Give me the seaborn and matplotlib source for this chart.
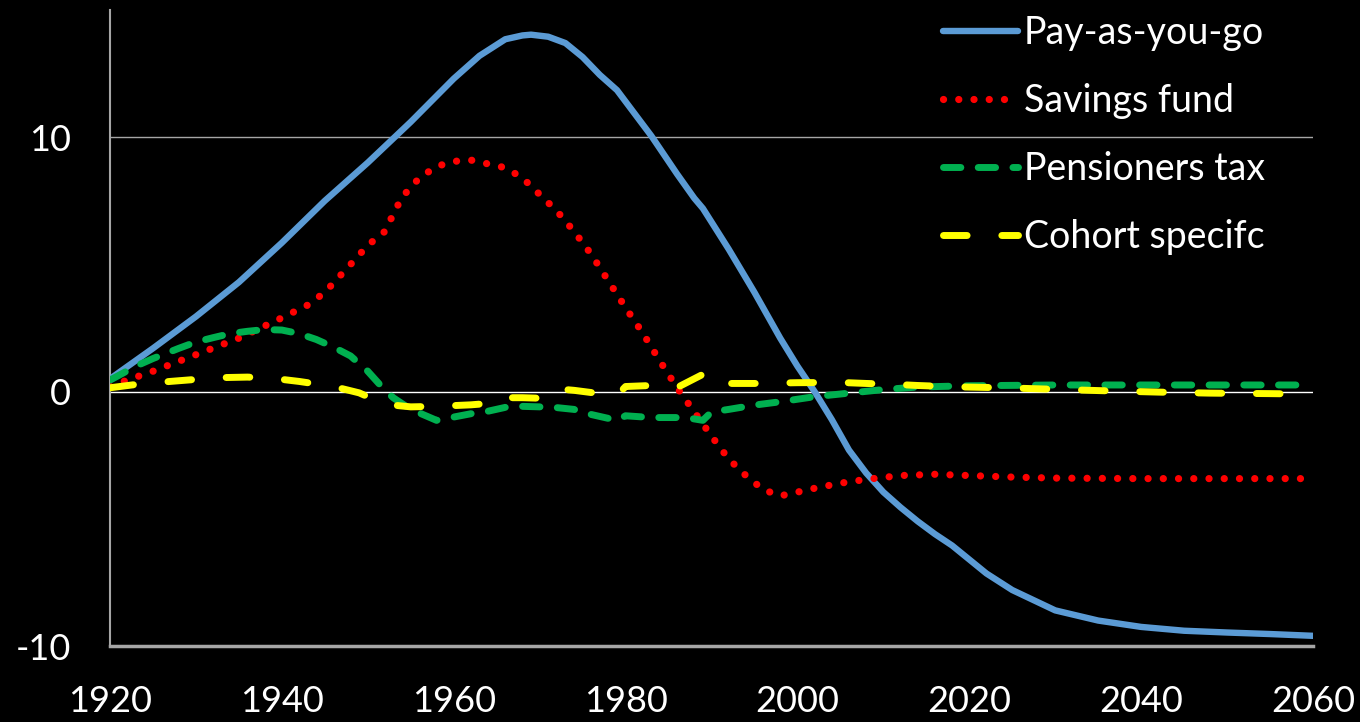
import matplotlib
matplotlib.use("Agg")
import matplotlib.pyplot as plt
import seaborn as sns
import pandas as pd

# 資料
payg_year = [1920, 1925, 1930, 1935, 1940, 1945, 1950, 1955, 1960, 1963, 1966, 1968,
             1969, 1971, 1973, 1975, 1977, 1979, 1981, 1983, 1986, 1988, 1989, 1992,
             1995, 1998, 2000, 2002, 2004, 2006, 2008, 2010, 2012, 2014, 2016, 2018,
             2020, 2022, 2025, 2030, 2035, 2040, 2045, 2050, 2055, 2060]
payg_val = [0.5, 1.7, 2.95, 4.3, 5.85, 7.5, 9.0, 10.6, 12.3, 13.2, 13.85, 14.0,
            14.03, 13.95, 13.7, 13.15, 12.45, 11.85, 10.95, 10.05, 8.55, 7.6, 7.2, 5.6,
            3.9, 2.1, 1.0, 0.0, -1.1, -2.3, -3.2, -3.95, -4.55, -5.1, -5.6, -6.05,
            -6.6, -7.15, -7.8, -8.6, -9.0, -9.25, -9.4, -9.47, -9.53, -9.6]

sav_year = [1920, 1922, 1925, 1930, 1935, 1940, 1943, 1945, 1948, 1950, 1952, 1953,
            1954, 1956, 1958, 1960, 1962, 1964, 1966, 1968, 1970, 1972, 1974, 1976,
            1978, 1980, 1982, 1984, 1986, 1988, 1990, 1992, 1994, 1996, 1998, 2000,
            2002, 2005, 2008, 2012, 2016, 2020, 2025, 2030, 2040, 2060]
sav_val = [0.2, 0.45, 0.8, 1.45, 2.1, 2.9, 3.4, 3.9, 5.0, 5.75, 6.3, 7.0,
           7.65, 8.4, 8.85, 9.05, 9.1, 8.95, 8.8, 8.4, 7.75, 7.1, 6.3, 5.4,
           4.35, 3.3, 2.3, 1.2, 0.15, -0.8, -1.75, -2.65, -3.3, -3.85, -4.1, -3.95,
           -3.8, -3.6, -3.45, -3.3, -3.25, -3.3, -3.36, -3.4, -3.42, -3.42]

pens_year = [1920, 1923, 1925, 1928, 1930, 1932, 1934, 1936, 1938, 1940, 1942, 1944,
             1946, 1948, 1950, 1952, 1953, 1955, 1956, 1958, 1960, 1962, 1964, 1966,
             1968, 1970, 1972, 1974, 1976, 1979, 1980, 1983, 1987, 1989, 1990, 1992,
             1995, 1998, 2002, 2006, 2010, 2014, 2020, 2030, 2060]
pens_val = [0.45, 1.0, 1.3, 1.7, 1.95, 2.12, 2.28, 2.37, 2.44, 2.42, 2.28, 2.05,
            1.75, 1.4, 0.8, 0.05, -0.25, -0.7, -0.84, -1.13, -1.0, -0.87, -0.77, -0.62,
            -0.58, -0.6, -0.63, -0.7, -0.9, -1.13, -0.95, -1.02, -1.02, -1.13, -0.8, -0.7,
            -0.53, -0.4, -0.2, -0.06, 0.08, 0.18, 0.23, 0.26, 0.26]

coh_year = [1920, 1923, 1927, 1930, 1933, 1936, 1939, 1942, 1946, 1949, 1952, 1955,
            1958, 1962, 1965, 1966, 1968, 1971, 1972, 1973, 1974, 1977, 1979, 1980,
            1983, 1986, 1989, 1990, 1995, 2000, 2005, 2008, 2011, 2014, 2018, 2024,
            2029, 2035, 2042, 2048, 2055, 2060]
coh_val = [0.15, 0.28, 0.4, 0.48, 0.55, 0.57, 0.52, 0.4, 0.2, -0.05, -0.5, -0.6,
           -0.58, -0.52, -0.44, -0.24, -0.24, -0.27, -0.2, 0.08, 0.05, -0.08, -0.15, 0.2,
           0.24, 0.16, 0.68, 0.32, 0.32, 0.35, 0.36, 0.32, 0.29, 0.24, 0.19, 0.15,
           0.1, 0.04, -0.02, -0.06, -0.08, -0.1]

labels = ['Pay-as-you-go', 'Savings fund', 'Pensioners tax', 'Cohort specifc']
colors = ['#5b9bd5', '#ff0000', '#00b050', '#ffff00']
x_ticks = [1920, 1940, 1960, 1980, 2000, 2020, 2040, 2060]
y_ticks = [-10, 0, 10]

# 樣式
sns.set_style('dark', {'axes.facecolor': 'black', 'figure.facecolor': 'black',
                       'text.color': 'white', 'xtick.color': 'white',
                       'ytick.color': 'white', 'axes.edgecolor': '#a6a6a6'})
plt.rcParams['font.family'] = ['Lato', 'DejaVu Sans']
plt.rcParams['axes.unicode_minus'] = False

fig = plt.figure(figsize=(13.6, 7.22), dpi=100)
ax = fig.add_axes([110 / 1360, 76 / 722, 1203 / 1360, 636 / 722])

series = [(payg_year, payg_val), (sav_year, sav_val), (pens_year, pens_val), (coh_year, coh_val)]
styles = ['-', (0, (0.01, 2.1)), (0, (2.5, 2.5)), (0, (3.4, 5.0))]
widths = [4.6, 5.2, 5.0, 5.0]

# 參考線
ax.axhline(10, color='#a6a6a6', lw=1.0, zorder=1)
ax.axhline(0, color='white', lw=1.0, zorder=1)

for (yr, vals), lab, col, ls, lw in zip(series, labels, colors, styles, widths):
    df = pd.DataFrame({'year': yr, 'value': vals})
    sns.lineplot(data=df, x='year', y='value', ax=ax, color=col, label=lab,
                 linestyle=ls, linewidth=lw, dash_capstyle='round',
                 solid_capstyle='round', zorder=3)

ax.set_xlim(1920, 2060)
ax.set_ylim(-10, 15)
ax.set_xticks(x_ticks)
ax.set_yticks(y_ticks)
ax.tick_params(axis='x', length=0, pad=28, labelsize=26)
ax.tick_params(axis='y', length=0, pad=28, labelsize=26)
ax.set_xlabel('')
ax.set_ylabel('')
ax.grid(False)

for s in ['top', 'right']:
    ax.spines[s].set_visible(False)
ax.spines['left'].set_color('#a6a6a6')
ax.spines['left'].set_linewidth(1.5)
ax.spines['bottom'].set_color('#a6a6a6')
ax.spines['bottom'].set_linewidth(2.5)

leg = ax.legend(loc='upper left', bbox_to_anchor=(928 / 1360, 1.0, 0, 0),
                bbox_transform=fig.transFigure, frameon=False, fontsize=27,
                handlelength=2.0, handletextpad=0.15, labelspacing=0.85,
                borderaxespad=0, borderpad=0.4)
for t in leg.get_texts():
    t.set_color('white')

fig.savefig('out.png', dpi=100, facecolor='black')
